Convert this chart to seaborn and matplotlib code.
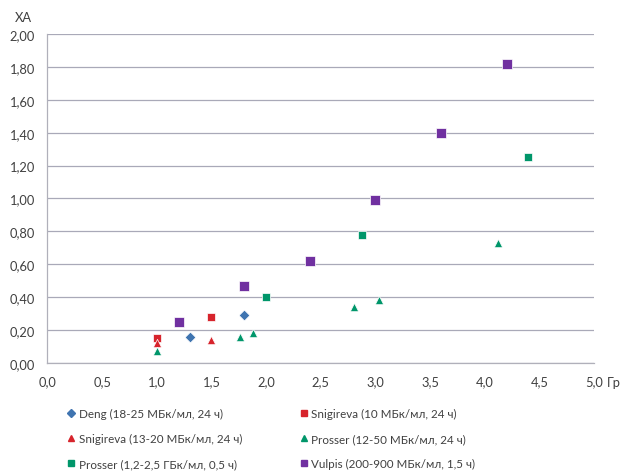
import matplotlib as mpl
mpl.use('Agg')
import matplotlib.pyplot as plt
import numpy as np
import pandas as pd
import seaborn as sns

# series labels
deng_label = 'Deng (18-25 МБк/мл, 24 ч)'
snig_sq_label = 'Snigireva (10 МБк/мл, 24 ч)'
snig_tri_label = 'Snigireva (13-20 МБк/мл, 24 ч)'
prosser_tri_label = 'Prosser (12-50 МБк/мл, 24 ч)'
prosser_sq_label = 'Prosser (1,2-2,5 ГБк/мл, 0,5 ч)'
vulpis_label = 'Vulpis (200-900 МБк/мл, 1,5 ч)'

# values (dose Гр, ХА)
deng_x = [1.3, 1.8]
deng_y = [0.16, 0.29]
snig_sq_x = [1.0, 1.5]
snig_sq_y = [0.15, 0.28]
snig_tri_x = [1.0, 1.5]
snig_tri_y = [0.12, 0.14]
prosser_tri_x = [1.0, 1.76, 1.88, 2.8, 3.03, 4.12]
prosser_tri_y = [0.07, 0.16, 0.18, 0.34, 0.38, 0.73]
prosser_sq_x = [2.0, 2.88, 4.4]
prosser_sq_y = [0.40, 0.78, 1.25]
vulpis_x = [1.2, 1.8, 2.4, 3.0, 3.6, 4.2]
vulpis_y = [0.25, 0.47, 0.62, 0.99, 1.40, 1.82]

x_ticks = [0.0, 0.5, 1.0, 1.5, 2.0, 2.5, 3.0, 3.5, 4.0, 4.5, 5.0]
y_ticks = [0.0, 0.2, 0.4, 0.6, 0.8, 1.0, 1.2, 1.4, 1.6, 1.8, 2.0]

series = [
    (deng_label, deng_x, deng_y, 'D', '#3f74b0', 30),
    (snig_sq_label, snig_sq_x, snig_sq_y, 's', '#d7242c', 36),
    (snig_tri_label, snig_tri_x, snig_tri_y, '^', '#d7242c', 36),
    (prosser_tri_label, prosser_tri_x, prosser_tri_y, '^', '#00966a', 36),
    (prosser_sq_label, prosser_sq_x, prosser_sq_y, 's', '#00966a', 36),
    (vulpis_label, vulpis_x, vulpis_y, 's', '#7030a0', 52),
]

sns.set_style('white')
plt.rcParams['font.family'] = ['Lato', 'DejaVu Sans']

fig = plt.figure(figsize=(6.35, 4.77), dpi=100)
ax = fig.add_axes([0.0748, 0.237, 0.8606, 0.6896])

handles = {}
for label, xs, ys, marker, color, size in series:
    df = pd.DataFrame({'x': xs, 'y': ys})
    sns.scatterplot(data=df, x='x', y='y', ax=ax, marker=marker, color=color,
                    s=size, edgecolor='white', linewidth=0.5, zorder=3)
    handles[label] = plt.Line2D([], [], linestyle='none', marker=marker,
                                color=color, markersize=5 if marker != 'D' else 4.2)

ax.set_xlim(0, 5)
ax.set_ylim(0, 2)
ax.set_xticks(x_ticks)
ax.set_yticks(y_ticks)
ax.set_xticklabels([f'{v:.1f}'.replace('.', ',') for v in x_ticks])
ax.set_yticklabels([f'{v:.2f}'.replace('.', ',') for v in y_ticks])
ax.set_xlabel('')
ax.set_ylabel('')
ax.tick_params(axis='both', labelsize=9.3, colors='#404040', length=4,
               width=0.8, direction='out', pad=5)
ax.tick_params(axis='both', color='#b0b0ba')
ax.yaxis.grid(True, color='#a9a9b8', linewidth=0.9)
ax.xaxis.grid(False)
ax.set_axisbelow(True)
for side in ['top', 'right']:
    ax.spines[side].set_visible(False)
for side in ['left', 'bottom']:
    ax.spines[side].set_color('#b0b0ba')
    ax.spines[side].set_linewidth(0.9)

fig.text(0.024, 0.962, 'ХА', fontsize=9.3, color='#404040', ha='left', va='center')
fig.text(0.955, 0.197, 'Гр', fontsize=9.3, color='#404040', ha='left', va='center')

order = [deng_label, snig_tri_label, prosser_sq_label,
         snig_sq_label, prosser_tri_label, vulpis_label]
fig.legend([handles[k] for k in order], order, ncol=2, loc='upper left',
           bbox_to_anchor=(0.093, 0.159), frameon=False, fontsize=8.4,
           labelcolor='#404040', handlelength=0.7, handletextpad=0.3,
           columnspacing=4.9, labelspacing=1.18, borderpad=0.2)

plt.savefig('out.png', dpi=100)
